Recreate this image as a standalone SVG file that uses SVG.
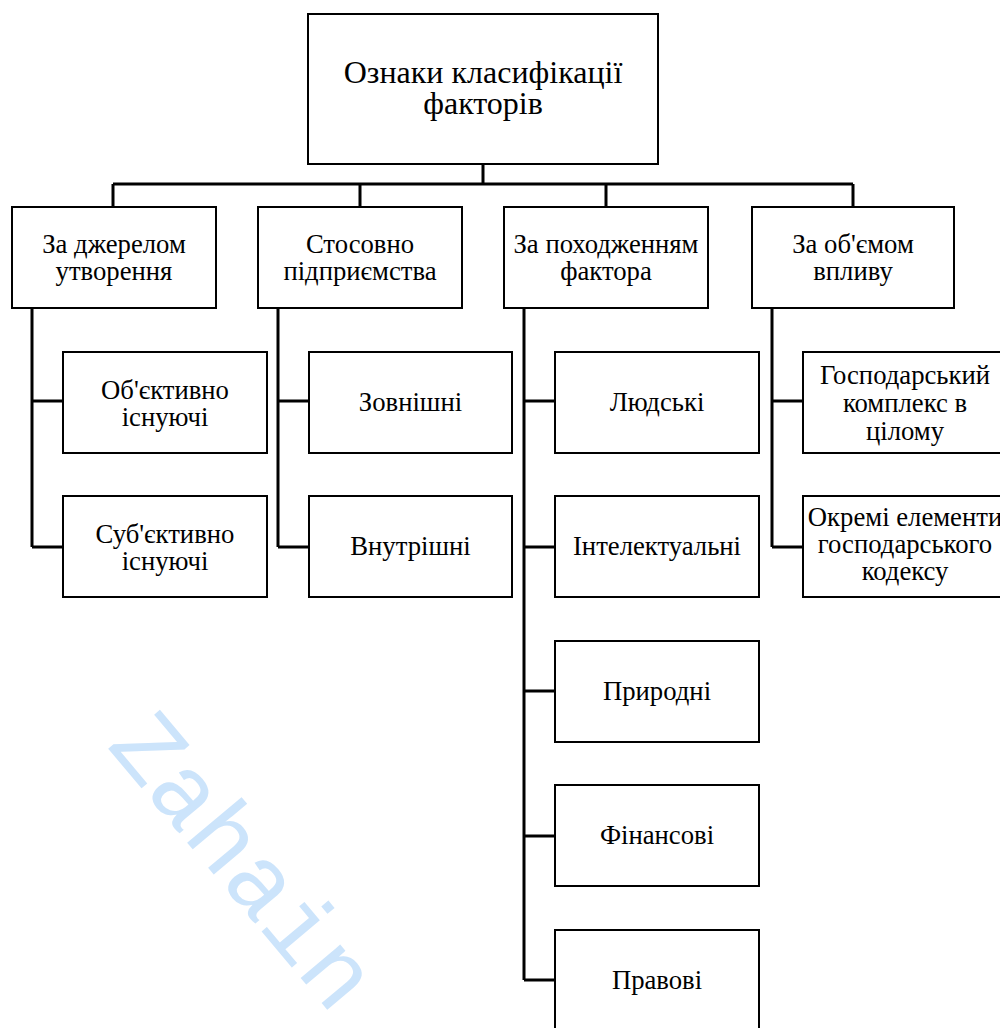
<svg xmlns="http://www.w3.org/2000/svg" width="1000" height="1028" viewBox="0 0 1000 1028">
<style>
.box{fill:#fff;stroke:#000;stroke-width:2}
.ln{fill:none;stroke:#000;stroke-width:3}
.t1{font-family:'Liberation Serif',serif;font-size:32px;fill:#000;text-anchor:middle}
.t2{font-family:'Liberation Serif',serif;font-size:26.7px;fill:#000;text-anchor:middle}
.wm{font-family:'Liberation Mono',monospace;font-size:98px;fill:#cce4fb}
</style>
<rect width="1000" height="1028" fill="#fff"/>
<text class="wm" transform="translate(106,746) rotate(50)">Zahain</text>
<g id="connectors">
<path class="ln" d="M483,164V184M113,184H853M113,184V207M360,184V207M606,184V207M853,184V207"/>
<path class="ln" d="M32,308V547M32,401H63M32,547H63"/>
<path class="ln" d="M278,307V547M278,401H309M278,547H309"/>
<path class="ln" d="M524,307V980M524,401H555M524,547H555M524,691H555M524,836H555M524,980H555"/>
<path class="ln" d="M772,308V547M772,401H803M772,547H803"/>
</g>
<g id="root"><rect class="box" x="308" y="14" width="350" height="150"/><text class="t1" x="483" y="82.5">Ознаки класифікації</text><text class="t1" x="483" y="114">факторів</text></g>
<g id="n-source"><rect class="box" x="12" y="207" width="204" height="101"/><text class="t2" x="114" y="253">За джерелом</text><text class="t2" x="114" y="280">утворення</text></g>
<g id="n-enterprise"><rect class="box" x="258" y="207" width="204" height="101"/><text class="t2" x="360" y="253">Стосовно</text><text class="t2" x="360" y="280">підприємства</text></g>
<g id="n-origin"><rect class="box" x="504" y="207" width="204" height="101"/><text class="t2" x="606" y="253">За походженням</text><text class="t2" x="606" y="280">фактора</text></g>
<g id="n-volume"><rect class="box" x="752" y="207" width="202" height="101"/><text class="t2" x="853" y="253">За об'ємом</text><text class="t2" x="853" y="280">впливу</text></g>
<g id="n-objective"><rect class="box" x="63" y="352" width="204" height="101"/><text class="t2" x="165" y="398.5">Об'єктивно</text><text class="t2" x="165" y="425.5">існуючі</text></g>
<g id="n-subjective"><rect class="box" x="63" y="496" width="204" height="101"/><text class="t2" x="165" y="542.5">Суб'єктивно</text><text class="t2" x="165" y="569.5">існуючі</text></g>
<g id="n-external"><rect class="box" x="309" y="352" width="203" height="101"/><text class="t2" x="410.5" y="411">Зовнішні</text></g>
<g id="n-internal"><rect class="box" x="309" y="496" width="203" height="101"/><text class="t2" x="410.5" y="555">Внутрішні</text></g>
<g id="n-human"><rect class="box" x="555" y="352" width="204" height="101"/><text class="t2" x="657" y="411">Людські</text></g>
<g id="n-intellectual"><rect class="box" x="555" y="496" width="204" height="101"/><text class="t2" x="657" y="555">Інтелектуальні</text></g>
<g id="n-natural"><rect class="box" x="555" y="641" width="204" height="101"/><text class="t2" x="657" y="700">Природні</text></g>
<g id="n-financial"><rect class="box" x="555" y="785" width="204" height="101"/><text class="t2" x="657" y="844">Фінансові</text></g>
<g id="n-legal"><rect class="box" x="555" y="930" width="204" height="101"/><text class="t2" x="657" y="989">Правові</text></g>
<g id="n-complex"><rect class="box" x="803" y="352" width="204" height="101"/><text class="t2" x="905" y="384">Господарський</text><text class="t2" x="905" y="412">комплекс в</text><text class="t2" x="905" y="440">цілому</text></g>
<g id="n-elements"><rect class="box" x="803" y="496" width="204" height="101"/><text class="t2" x="905" y="525.5">Окремі елементи</text><text class="t2" x="905" y="552.5">господарського</text><text class="t2" x="905" y="579.5">кодексу</text></g>
</svg>
